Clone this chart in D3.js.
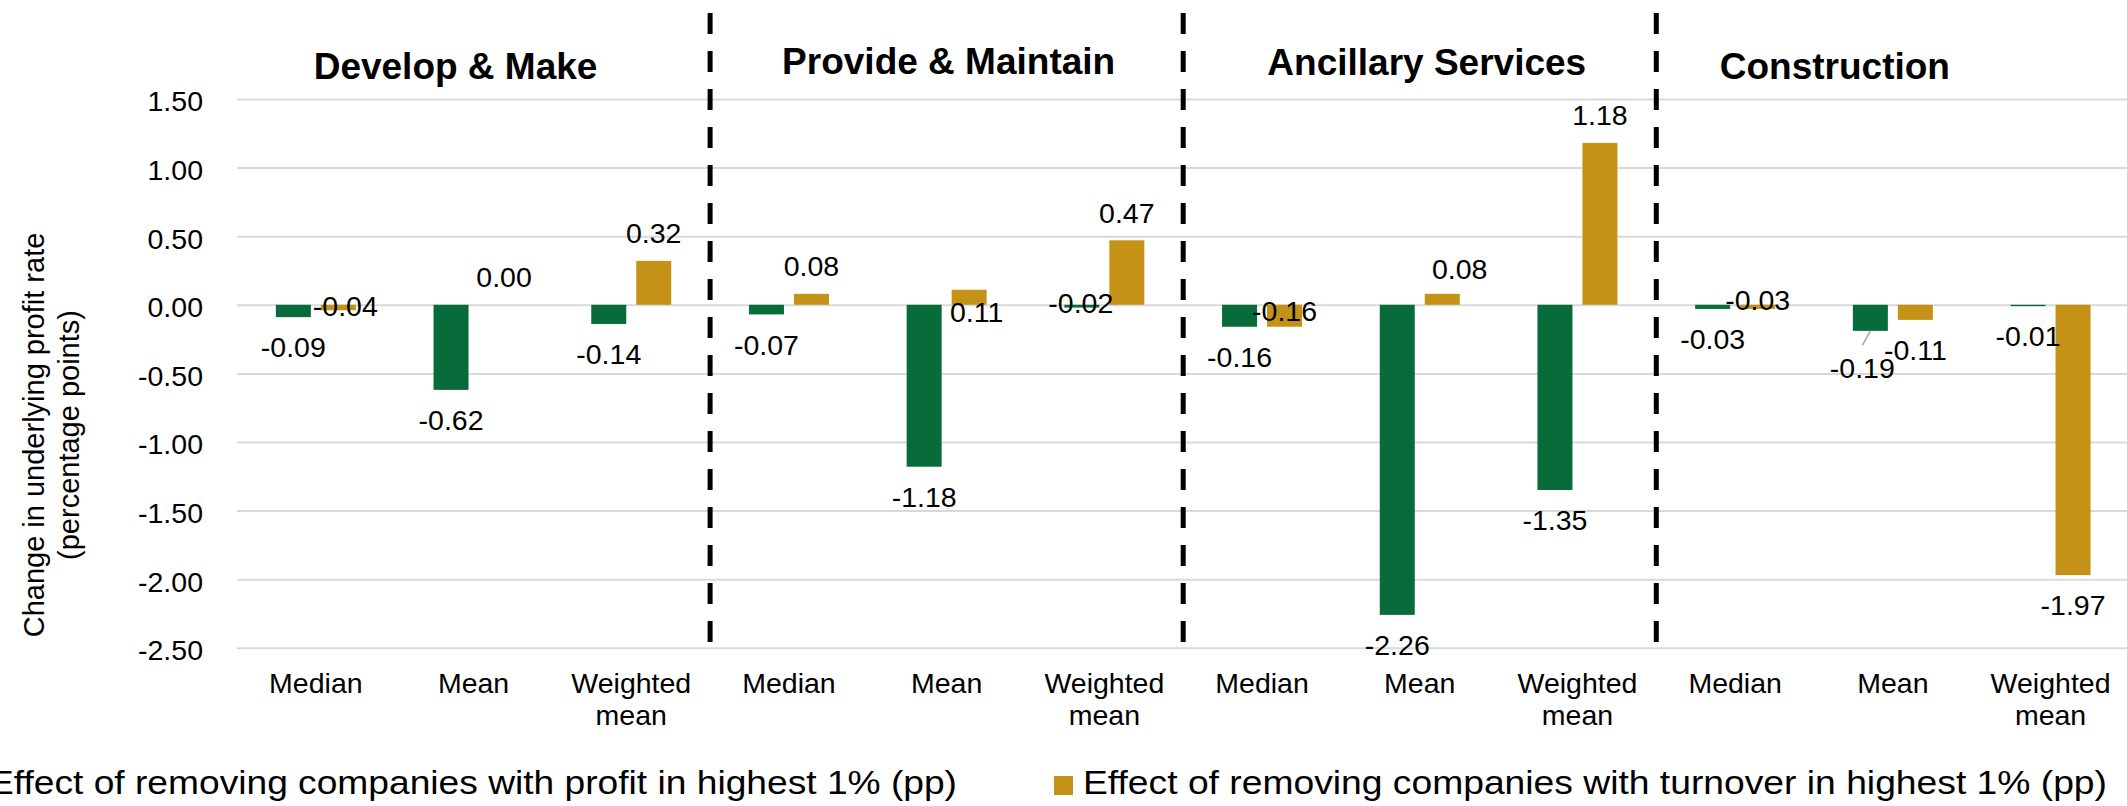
<!DOCTYPE html>
<html><head><meta charset="utf-8">
<script src="https://cdn.jsdelivr.net/npm/d3@7"></script>
<style>
html,body{margin:0;padding:0;background:#fff;overflow:hidden;}
svg{display:block;font-family:"Liberation Sans",Arial,sans-serif;}
</style></head><body>
<svg id="chart" width="2127" height="806"></svg>
<script>
// ---------------- DATA ----------------
const groups = ["Develop & Make", "Provide & Maintain", "Ancillary Services", "Construction"];
const measures = ["Median", "Mean", "Weighted mean"];
const profitEffect   = [-0.09, -0.62, -0.14, -0.07, -1.18, -0.02, -0.16, -2.26, -1.35, -0.03, -0.19, -0.01];
const turnoverEffect = [-0.04,  0.00,  0.32,  0.08,  0.11,  0.47, -0.16,  0.08,  1.18, -0.03, -0.11, -1.97];
const seriesKeys = ["profit", "turnover"];
const seriesNames = [
  "Effect of removing companies with profit in highest 1% (pp)",
  "Effect of removing companies with turnover in highest 1% (pp)"
];
const yTickValues = [1.5, 1.0, 0.5, 0.0, -0.5, -1.0, -1.5, -2.0, -2.5];
const axisTitleLines = ["Change in underlying profit rate", "(percentage points)"];

// ---------------- LAYOUT ----------------
const M = {left: 237, right: 2129.4, top: 99, bottom: 647.8};
const colors = {profit: "#076b3a", turnover: "#c49216"};
const FONT = '"Liberation Sans", Arial, sans-serif';
const fmt = d3.formatLocale({decimal: ".", thousands: ",", grouping: [3], currency: ["", ""], minus: "-"}).format(".2f");

const svg = d3.select("#chart");

const rows = groups.flatMap((g, gi) => measures.map((m, mi) => {
  const i = gi * measures.length + mi;
  return {group: g, measure: m, key: g + "|" + m, i, profit: profitEffect[i], turnover: turnoverEffect[i]};
}));

const x0 = d3.scaleBand().domain(rows.map(d => d.key)).range([M.left, M.right]).padding(0);
const x1 = d3.scaleBand().domain(seriesKeys).range([-40, 40]).paddingInner(0.222);
const y = d3.scaleLinear().domain([-2.5, 1.5]).range([M.bottom, M.top]);
const cx = (d, s) => x0(d.key) + x0.bandwidth() / 2 + x1(s) + x1.bandwidth() / 2;

// gridlines + y tick labels
const gy = svg.append("g").attr("transform", `translate(${M.left},0)`)
  .call(d3.axisLeft(y).tickValues(yTickValues).tickFormat(fmt)
    .tickSizeInner(-(M.right - M.left)).tickSizeOuter(0).tickPadding(34));
gy.attr("font-family", FONT).attr("font-size", 28.5);
gy.select(".domain").remove();
gy.selectAll(".tick line").attr("stroke", "#d9d9d9").attr("stroke-width", 2);
gy.selectAll(".tick text").attr("fill", "#000").attr("dy", "0.42em");

// dashed separators between groups
const sepKeys = groups.slice(1).map(g => g + "|" + measures[0]);
svg.append("g").selectAll("line").data(sepKeys).join("line")
  .attr("x1", k => x0(k)).attr("x2", k => x0(k))
  .attr("y1", 13).attr("y2", 643)
  .attr("stroke", "#000").attr("stroke-width", 5)
  .attr("stroke-dasharray", "21 17");

// bars
seriesKeys.forEach(s => {
  svg.append("g").selectAll("rect").data(rows).join("rect")
    .attr("x", d => x0(d.key) + x0.bandwidth() / 2 + x1(s))
    .attr("width", x1.bandwidth())
    .attr("y", d => y(Math.max(0, d[s])))
    .attr("height", d => Math.abs(y(d[s]) - y(0)))
    .attr("fill", colors[s]);
});

// data labels (default: outside end; a few hand-placed as in the original)
const adjust = {
  "turnover0": {dx: 7, cy: () => y(0) + 1},
  "turnover1": {dx: 8},
  "turnover4": {dx: 7.5, cy: () => y(0) + 7},
  "profit5":   {dx: -1, cy: () => y(0) - 2.5},
  "turnover6": {dx: 0, cy: () => y(0) + 5.5},
  "turnover7": {dx: 17.5, cy: v => y(v) - 25},
  "turnover9": {dx: 0, cy: () => y(0) - 4.7},
  "profit10":  {dx: -8, cy: v => y(v) + 36.5, leader: true}
};
const labels = [];
seriesKeys.forEach(s => rows.forEach(d => {
  const v = d[s];
  const a = adjust[s + d.i] || {};
  const bx = cx(d, s);
  const lx = bx + (a.dx || 0);
  const ly = a.cy ? a.cy(v) : (v >= 0 ? y(v) - 28 : y(v) + 30);
  labels.push({s, v, bx, lx, ly, leader: a.leader});
}));
svg.append("g").selectAll("line").data(labels.filter(l => l.leader)).join("line")
  .attr("x1", l => l.bx).attr("y1", l => y(l.v))
  .attr("x2", l => l.lx).attr("y2", l => l.ly - 22)
  .attr("stroke", "#a6a6a6").attr("stroke-width", 1.5);
svg.append("g").attr("font-family", FONT).attr("font-size", 28.5).attr("fill", "#000")
  .selectAll("text").data(labels).join("text")
  .attr("x", l => l.lx).attr("y", l => l.ly + 10.2)
  .attr("text-anchor", "middle")
  .text(l => fmt(l.v));

// x category labels
const gx = svg.append("g").attr("transform", `translate(0,693)`)
  .call(d3.axisBottom(x0).tickSize(0).tickFormat(k => k.split("|")[1]));
gx.attr("font-family", FONT).attr("font-size", 28.5);
gx.select(".domain").remove();
gx.selectAll(".tick text").each(function(k) {
  const t = d3.select(this).attr("y", 0).attr("dy", 0).attr("fill", "#000").text(null);
  const words = k.split("|")[1].split(" ");
  words.forEach((w, j) => t.append("tspan").attr("x", 0).attr("y", j * 32).text(w));
});

// group titles
const titlePos = [{dx: -18, y: 79}, {dx: 2, y: 74}, {dx: 7, y: 75}, {dx: -58, y: 79}];
svg.append("g").attr("font-family", FONT).attr("font-size", 37).attr("font-weight", "bold").attr("fill", "#000")
  .selectAll("text").data(groups).join("text")
  .attr("x", (g, i) => x0(g + "|" + measures[1]) + x0.bandwidth() / 2 + titlePos[i].dx)
  .attr("y", (g, i) => titlePos[i].y)
  .attr("text-anchor", "middle")
  .text(g => g);

// y axis title
svg.append("g").attr("font-family", FONT).attr("font-size", 29).attr("fill", "#000")
  .selectAll("text").data(axisTitleLines).join("text")
  .attr("transform", (t, i) => `translate(${44 + i * 35},435) rotate(-90)`)
  .attr("text-anchor", "middle")
  .text(t => t);

// legend
const legendPos = [{x: -11, len: 968}, {x: 1083, len: 1024}];
const lg = svg.append("g").attr("font-family", FONT).attr("font-size", 34).attr("fill", "#000");
seriesKeys.forEach((s, i) => {
  lg.append("rect").attr("x", legendPos[i].x - 29).attr("y", 776).attr("width", 19).attr("height", 19).attr("fill", colors[s]);
  lg.append("text").attr("x", legendPos[i].x).attr("y", 794)
    .attr("textLength", legendPos[i].len).attr("lengthAdjust", "spacingAndGlyphs")
    .text(seriesNames[i]);
});
</script>
</body></html>
